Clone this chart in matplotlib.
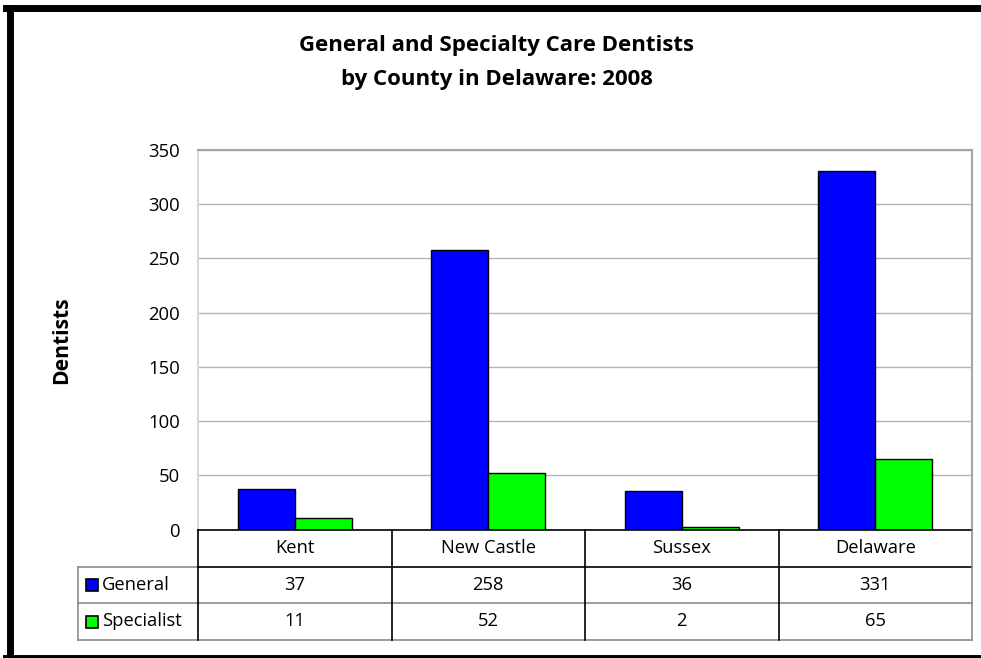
import numpy as np
import matplotlib.pyplot as plt
from matplotlib.lines import Line2D
from matplotlib.patches import Rectangle
from matplotlib.transforms import blended_transform_factory

plt.rcParams['font.family'] = ['Open Sans', 'DejaVu Sans']

counties = ['Kent', 'New Castle', 'Sussex', 'Delaware']
general = [37, 258, 36, 331]
specialist = [11, 52, 2, 65]
series_names = ['General', 'Specialist']
series_colors = ['#0000ff', '#00ff00']
yticks = [0, 50, 100, 150, 200, 250, 300, 350]

W, H = 981, 658
fig = plt.figure(figsize=(W / 100, H / 100), dpi=100)


def fx(px):
  return px / W


def fy(py):
  return 1 - py / H


# plot area in pixel terms
left, right, top, bottom = 198, 972, 150, 529.6
ax = fig.add_axes([fx(left), fy(bottom), fx(right - left), (bottom - top) / H])

x = np.arange(len(counties))
bw = 0.295
for i, (vals, name) in enumerate(zip([general, specialist], series_names)):
  ax.bar(x + (i - 0.5) * bw, vals, width=bw, color=series_colors[i],
         edgecolor='black', linewidth=1.0, zorder=3, label=name)

ax.set_xlim(-0.5, len(counties) - 0.5)
ax.set_ylim(0, 350)
ax.set_yticks(yticks)
ax.set_yticklabels([str(t) for t in yticks], fontsize=13.3)
ax.tick_params(axis='y', length=0, pad=13)
ax.set_xticks([])
ax.grid(axis='y', color='#b4b4b4', linewidth=1.0, zorder=0)
for s in ['top', 'right']:
  ax.spines[s].set_color('#a6a6a6')
  ax.spines[s].set_linewidth(1.5)
ax.spines['left'].set_color('#d9d9d9')
ax.spines['left'].set_linewidth(1.5)
ax.spines['bottom'].set_visible(False)

fig.text(fx(62), fy(340), 'Dentists', rotation=90, ha='center', va='center',
         fontsize=15.2, fontweight='bold')
fig.text(fx(497), fy(45), 'General and Specialty Care Dentists', ha='center',
         va='center', fontsize=16, fontweight='bold')
fig.text(fx(497), fy(80), 'by County in Delaware: 2008', ha='center',
         va='center', fontsize=16, fontweight='bold')

# data table under the axis
tr = blended_transform_factory(ax.transData, fig.transFigure)
row_y = [529.6, 567, 603, 640]
leg_left = 78
gray = '#8c8c8c'


def hline(x0, x1, py, color, lw=1.2):
  fig.add_artist(Line2D([fx(x0), fx(x1)], [fy(py), fy(py)], color=color, lw=lw))


def vline(px, y0, y1, color, lw=1.2):
  fig.add_artist(Line2D([fx(px), fx(px)], [fy(y0), fy(y1)], color=color, lw=lw))


hline(left, right, row_y[0], 'black')
hline(leg_left, left, row_y[1], gray)
hline(left, right, row_y[1], 'black')
hline(leg_left, right, row_y[2], gray)
hline(leg_left, right, row_y[3], gray)
vline(leg_left, row_y[1], row_y[3], gray)
vline(left, row_y[0], row_y[3], 'black')
vline(right, row_y[0], row_y[3], gray)
for b in x[1:] - 0.5:
  fig.add_artist(Line2D([b, b], [fy(row_y[0]), fy(row_y[3])], color='black',
                        lw=1.2, transform=tr))

for i, name in enumerate(counties):
  fig.text(i, fy((row_y[0] + row_y[1]) / 2), name, transform=tr,
           ha='center', va='center', fontsize=13.2)
for r, vals in enumerate([general, specialist]):
  yc = fy((row_y[r + 1] + row_y[r + 2]) / 2)
  for i, v in enumerate(vals):
    fig.text(i, yc, str(v), transform=tr, ha='center', va='center', fontsize=13.2)
  fig.add_artist(Rectangle((fx(86), yc - 6 / H), 12 / W, 12 / H,
                           facecolor=series_colors[r], edgecolor='black', lw=1.2))
  fig.text(fx(102), yc, series_names[r], ha='left', va='center', fontsize=13.2)

# thick frame round the chart
fig.add_artist(Line2D([fx(9.5), fx(9.5)], [fy(7.5), fy(658)], color='black', lw=5))
fig.add_artist(Line2D([fx(6), 1], [fy(7.5), fy(7.5)], color='black', lw=5))
fig.add_artist(Line2D([fx(6), 1], [fy(658), fy(658)], color='black', lw=5))

fig.savefig('out.png', dpi=100)
